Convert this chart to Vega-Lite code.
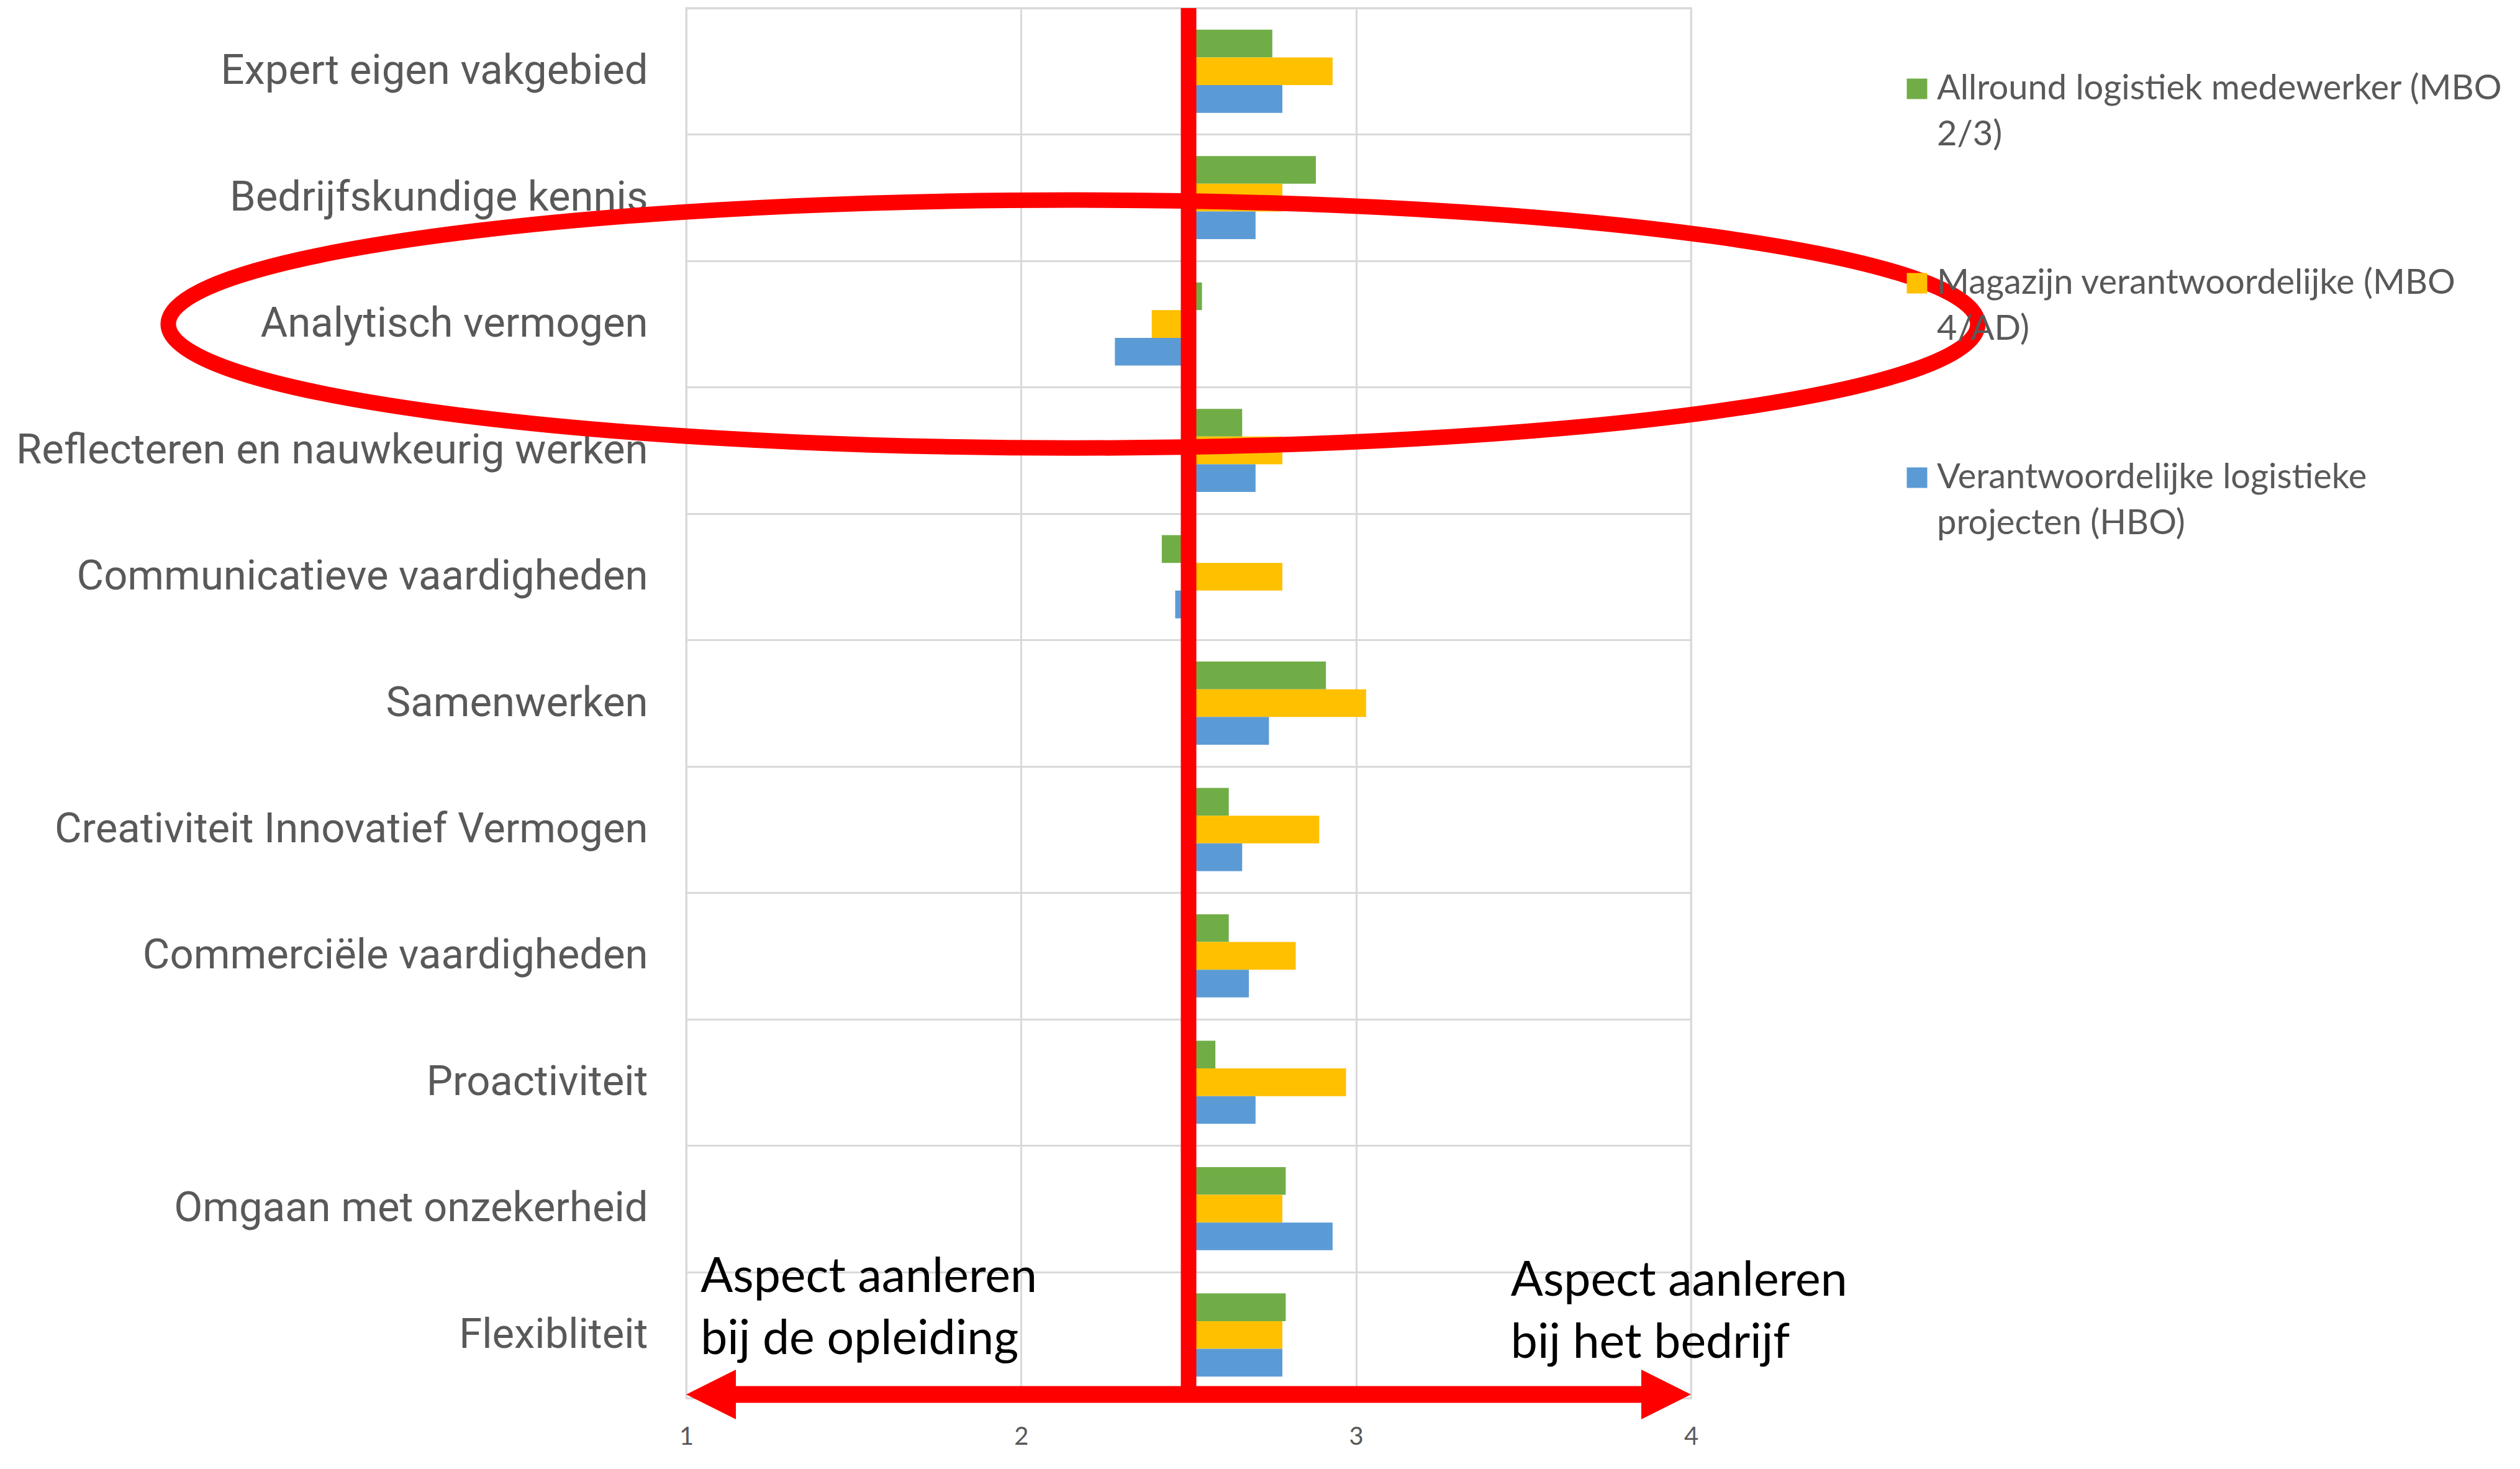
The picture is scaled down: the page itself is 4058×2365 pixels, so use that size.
{
  "$schema": "https://vega.github.io/schema/vega-lite/v6.json",
  "width": 1618,
  "height": 2238,
  "autosize": {"type": "none"},
  "padding": {"left": 1105, "top": 13, "right": 1335, "bottom": 114},
  "background": "white",
  "config": {
    "view": {"stroke": "#d9d9d9", "strokeWidth": 3},
    "style": {"guide-label": {"lineHeight": 74}}
  },
  "data": {
    "values": [
      {"aspect": "Expert eigen vakgebied", "series": "Allround logistiek medewerker (MBO 2/3)", "value": 2.75},
      {"aspect": "Expert eigen vakgebied", "series": "Magazijn verantwoordelijke (MBO 4/AD)", "value": 2.93},
      {"aspect": "Expert eigen vakgebied", "series": "Verantwoordelijke logistieke projecten (HBO)", "value": 2.78},
      {"aspect": "Bedrijfskundige kennis", "series": "Allround logistiek medewerker (MBO 2/3)", "value": 2.88},
      {"aspect": "Bedrijfskundige kennis", "series": "Magazijn verantwoordelijke (MBO 4/AD)", "value": 2.78},
      {"aspect": "Bedrijfskundige kennis", "series": "Verantwoordelijke logistieke projecten (HBO)", "value": 2.70},
      {"aspect": "Analytisch vermogen", "series": "Allround logistiek medewerker (MBO 2/3)", "value": 2.54},
      {"aspect": "Analytisch vermogen", "series": "Magazijn verantwoordelijke (MBO 4/AD)", "value": 2.39},
      {"aspect": "Analytisch vermogen", "series": "Verantwoordelijke logistieke projecten (HBO)", "value": 2.28},
      {"aspect": "Reflecteren en nauwkeurig werken", "series": "Allround logistiek medewerker (MBO 2/3)", "value": 2.66},
      {"aspect": "Reflecteren en nauwkeurig werken", "series": "Magazijn verantwoordelijke (MBO 4/AD)", "value": 2.78},
      {"aspect": "Reflecteren en nauwkeurig werken", "series": "Verantwoordelijke logistieke projecten (HBO)", "value": 2.70},
      {"aspect": "Communicatieve vaardigheden", "series": "Allround logistiek medewerker (MBO 2/3)", "value": 2.42},
      {"aspect": "Communicatieve vaardigheden", "series": "Magazijn verantwoordelijke (MBO 4/AD)", "value": 2.78},
      {"aspect": "Communicatieve vaardigheden", "series": "Verantwoordelijke logistieke projecten (HBO)", "value": 2.46},
      {"aspect": "Samenwerken", "series": "Allround logistiek medewerker (MBO 2/3)", "value": 2.91},
      {"aspect": "Samenwerken", "series": "Magazijn verantwoordelijke (MBO 4/AD)", "value": 3.03},
      {"aspect": "Samenwerken", "series": "Verantwoordelijke logistieke projecten (HBO)", "value": 2.74},
      {"aspect": "Creativiteit Innovatief Vermogen", "series": "Allround logistiek medewerker (MBO 2/3)", "value": 2.62},
      {"aspect": "Creativiteit Innovatief Vermogen", "series": "Magazijn verantwoordelijke (MBO 4/AD)", "value": 2.89},
      {"aspect": "Creativiteit Innovatief Vermogen", "series": "Verantwoordelijke logistieke projecten (HBO)", "value": 2.66},
      {"aspect": "Commerciële vaardigheden", "series": "Allround logistiek medewerker (MBO 2/3)", "value": 2.62},
      {"aspect": "Commerciële vaardigheden", "series": "Magazijn verantwoordelijke (MBO 4/AD)", "value": 2.82},
      {"aspect": "Commerciële vaardigheden", "series": "Verantwoordelijke logistieke projecten (HBO)", "value": 2.68},
      {"aspect": "Proactiviteit", "series": "Allround logistiek medewerker (MBO 2/3)", "value": 2.58},
      {"aspect": "Proactiviteit", "series": "Magazijn verantwoordelijke (MBO 4/AD)", "value": 2.97},
      {"aspect": "Proactiviteit", "series": "Verantwoordelijke logistieke projecten (HBO)", "value": 2.70},
      {"aspect": "Omgaan met onzekerheid", "series": "Allround logistiek medewerker (MBO 2/3)", "value": 2.79},
      {"aspect": "Omgaan met onzekerheid", "series": "Magazijn verantwoordelijke (MBO 4/AD)", "value": 2.78},
      {"aspect": "Omgaan met onzekerheid", "series": "Verantwoordelijke logistieke projecten (HBO)", "value": 2.93},
      {"aspect": "Flexibliteit", "series": "Allround logistiek medewerker (MBO 2/3)", "value": 2.79},
      {"aspect": "Flexibliteit", "series": "Magazijn verantwoordelijke (MBO 4/AD)", "value": 2.78},
      {"aspect": "Flexibliteit", "series": "Verantwoordelijke logistieke projecten (HBO)", "value": 2.78}
    ]
  },
  "layer": [
    {
      "mark": {"type": "bar"},
      "encoding": {
        "y": {
          "field": "aspect",
          "type": "nominal",
          "scale": {
            "domain": ["Expert eigen vakgebied", "Bedrijfskundige kennis", "Analytisch vermogen", "Reflecteren en nauwkeurig werken", "Communicatieve vaardigheden", "Samenwerken", "Creativiteit Innovatief Vermogen", "Commerciële vaardigheden", "Proactiviteit", "Omgaan met onzekerheid", "Flexibliteit"],
            "paddingInner": 0,
            "paddingOuter": 0
          },
          "axis": {
            "title": null,
            "tickBand": "extent",
            "ticks": false,
            "domain": false,
            "grid": true,
            "gridColor": "#d9d9d9",
            "gridWidth": 3,
            "labelFont": "Roboto",
            "labelFontSize": 67,
            "labelColor": "#595959",
            "labelPadding": 62,
            "labelLimit": 0
          }
        },
        "yOffset": {
          "field": "series",
          "sort": ["Allround logistiek medewerker (MBO 2/3)", "Magazijn verantwoordelijke (MBO 4/AD)", "Verantwoordelijke logistieke projecten (HBO)"],
          "scale": {"paddingOuter": 0.78, "paddingInner": 0}
        },
        "x": {
          "field": "value",
          "type": "quantitative",
          "scale": {"domain": [1, 4], "nice": false, "zero": false},
          "axis": {
            "title": null,
            "values": [1, 2, 3, 4],
            "format": "d",
            "grid": true,
            "gridColor": "#d9d9d9",
            "gridWidth": 3,
            "domain": false,
            "ticks": false,
            "labelFont": "Lato",
            "labelFontSize": 40,
            "labelColor": "#595959",
            "labelPadding": 42,
            "labelFlush": false
          }
        },
        "x2": {"datum": 2.5},
        "color": {
          "field": "series",
          "type": "nominal",
          "scale": {
            "domain": ["Allround logistiek medewerker (MBO 2/3)", "Magazijn verantwoordelijke (MBO 4/AD)", "Verantwoordelijke logistieke projecten (HBO)"],
            "range": ["#70AD47", "#FFC000", "#5B9BD5"]
          },
          "legend": {
            "title": null,
            "orient": "none",
            "legendX": 1954,
            "legendY": 102,
            "padding": 0,
            "symbolType": "square",
            "symbolSize": 1089,
            "symbolStrokeWidth": 0,
            "labelFont": "Lato",
            "labelFontSize": 56,
            "labelColor": "#595959",
            "labelOffset": 4,
            "labelLimit": 0,
            "rowPadding": 183,
            "labelExpr": "datum.label == 'Allround logistiek medewerker (MBO 2/3)' ? ['Allround logistiek medewerker (MBO', '2/3)'] : datum.label == 'Magazijn verantwoordelijke (MBO 4/AD)' ? ['Magazijn verantwoordelijke (MBO', '4/AD)'] : ['Verantwoordelijke logistieke', 'projecten (HBO)']"
          }
        }
      }
    },
    {
      "data": {"values": [{}]},
      "mark": {"type": "rule", "color": "#FF0000", "strokeWidth": 25},
      "encoding": {"x": {"datum": 2.5}}
    },
    {
      "data": {"values": [{}]},
      "mark": {"type": "rule", "color": "#FF0000", "strokeWidth": 27},
      "encoding": {
        "x": {"datum": 1.06},
        "x2": {"datum": 3.94},
        "y": {"datum": "Flexibliteit", "type": "nominal", "bandPosition": 0.97}
      }
    },
    {
      "data": {"values": [{}]},
      "mark": {"type": "point", "shape": "M 0 0 L 2 -1 L 2 1 Z", "filled": true, "color": "#FF0000", "opacity": 1, "size": 6400, "strokeWidth": 0},
      "encoding": {
        "x": {"datum": 1},
        "y": {"datum": "Flexibliteit", "type": "nominal", "bandPosition": 0.97}
      }
    },
    {
      "data": {"values": [{}]},
      "mark": {"type": "point", "shape": "M 0 0 L -2 -1 L -2 1 Z", "filled": true, "color": "#FF0000", "opacity": 1, "size": 6400, "strokeWidth": 0},
      "encoding": {
        "x": {"datum": 4},
        "y": {"datum": "Flexibliteit", "type": "nominal", "bandPosition": 0.97}
      }
    },
    {
      "data": {"values": [{}]},
      "mark": {"type": "point", "shape": "M -1 0 C -1 -0.0757 -0.5523 -0.137 0 -0.137 C 0.5523 -0.137 1 -0.0757 1 0 C 1 0.0757 0.5523 0.137 0 0.137 C -0.5523 0.137 -1 0.0757 -1 0 Z", "filled": false, "stroke": "#FF0000", "opacity": 1, "size": 8491396, "strokeWidth": 25, "clip": false},
      "encoding": {
        "x": {"datum": 2.155},
        "y": {"datum": "Analytisch vermogen", "type": "nominal"}
      }
    },
    {
      "data": {"values": [{}]},
      "mark": {"type": "text", "text": ["Aspect aanleren", "bij de opleiding"], "font": "Lato", "fontSize": 77, "color": "#000000", "align": "left", "baseline": "alphabetic", "lineHeight": 100},
      "encoding": {
        "x": {"datum": 1.043},
        "y": {"datum": "Flexibliteit", "type": "nominal", "bandPosition": 0.16}
      }
    },
    {
      "data": {"values": [{}]},
      "mark": {"type": "text", "text": ["Aspect aanleren", "bij het bedrijf"], "font": "Lato", "fontSize": 77, "color": "#000000", "align": "left", "baseline": "alphabetic", "lineHeight": 100},
      "encoding": {
        "x": {"datum": 3.462},
        "y": {"datum": "Flexibliteit", "type": "nominal", "bandPosition": 0.19}
      }
    }
  ]
}
